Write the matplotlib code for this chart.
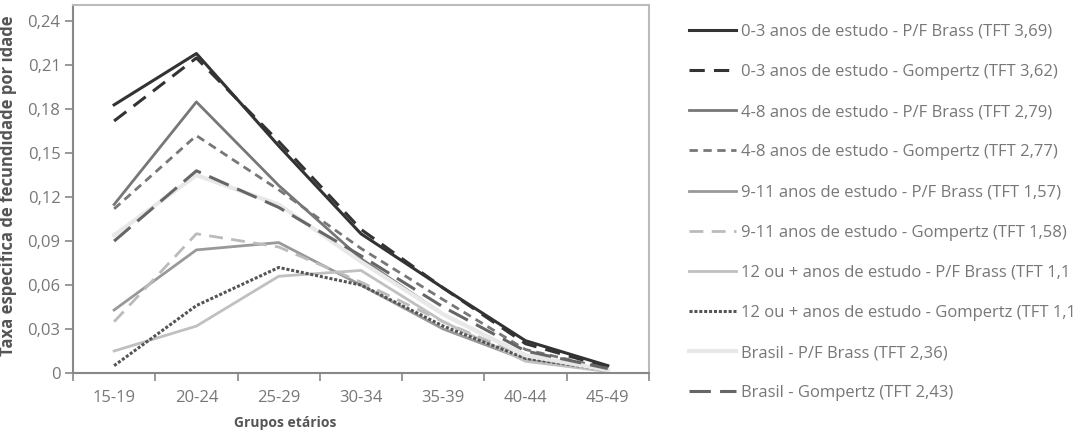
import matplotlib
matplotlib.use("Agg")
import matplotlib.pyplot as plt
from matplotlib.ticker import FuncFormatter, FixedLocator

plt.rcParams['font.family'] = ['Open Sans', 'DejaVu Sans']

grupos = ['15-19', '20-24', '25-29', '30-34', '35-39', '40-44', '45-49']

# taxas específicas de fecundidade por idade
pf_0_3 = [0.183, 0.218, 0.155, 0.095, 0.058, 0.022, 0.005]
gz_0_3 = [0.172, 0.215, 0.158, 0.098, 0.058, 0.020, 0.004]
pf_4_8 = [0.115, 0.185, 0.128, 0.078, 0.040, 0.012, 0.002]
gz_4_8 = [0.112, 0.162, 0.125, 0.085, 0.050, 0.016, 0.003]
pf_9_11 = [0.043, 0.084, 0.089, 0.060, 0.030, 0.009, 0.002]
gz_9_11 = [0.035, 0.095, 0.086, 0.062, 0.035, 0.011, 0.002]
pf_12 = [0.015, 0.032, 0.066, 0.070, 0.035, 0.008, 0.001]
gz_12 = [0.005, 0.046, 0.072, 0.060, 0.032, 0.010, 0.002]
pf_br = [0.094, 0.135, 0.115, 0.076, 0.040, 0.012, 0.002]
gz_br = [0.090, 0.138, 0.113, 0.080, 0.045, 0.015, 0.003]

series = [
    (pf_0_3, '0-3 anos de estudo - P/F Brass (TFT 3,69)', '#333333', '-', 2.2),
    (gz_0_3, '0-3 anos de estudo - Gompertz (TFT 3,62)', '#333333', (0, (5, 3)), 2.2),
    (pf_4_8, '4-8 anos de estudo - P/F Brass (TFT 2,79)', '#777777', '-', 2.0),
    (gz_4_8, '4-8 anos de estudo - Gompertz (TFT 2,77)', '#777777', (0, (3, 2)), 2.0),
    (pf_9_11, '9-11 anos de estudo - P/F Brass (TFT 1,57)', '#999999', '-', 2.0),
    (gz_9_11, '9-11 anos de estudo - Gompertz (TFT 1,58)', '#bbbbbb', (0, (5, 3)), 2.0),
    (pf_12, '12 ou + anos de estudo - P/F Brass (TFT 1,1', '#c0c0c0', '-', 2.0),
    (gz_12, '12 ou + anos de estudo - Gompertz (TFT 1,1', '#555555', (0, (1, 0.6)), 2.2),
    (pf_br, 'Brasil - P/F Brass (TFT 2,36)', '#e8e8e8', '-', 3.0),
    (gz_br, 'Brasil - Gompertz (TFT 2,43)', '#666666', (0, (7, 3)), 2.2),
]

fig = plt.figure(figsize=(10.78, 4.33), dpi=100)
ax = fig.add_axes([0.0677, 0.1386, 0.5343, 0.8494])

x = list(range(len(grupos)))
handles = []
for vals, label, color, ls, lw in series:
    h, = ax.plot(x, vals, color=color, linestyle=ls, linewidth=lw, label=label)
    handles.append(h)

ax.set_xlim(-0.5, 6.5)
ax.set_ylim(0, 0.251)
ax.set_yticks([0, 0.03, 0.06, 0.09, 0.12, 0.15, 0.18, 0.21, 0.24])
ax.yaxis.set_major_formatter(FuncFormatter(
    lambda v, p: '0' if v == 0 else f'{v:.2f}'.replace('.', ',')))

ax.xaxis.set_major_locator(FixedLocator([i - 0.5 for i in range(8)]))
ax.xaxis.set_minor_locator(FixedLocator(x))
ax.set_xticklabels([], minor=False)
ax.set_xticklabels(grupos, minor=True)
ax.tick_params(axis='x', which='major', length=6, width=1.2, color='#888888')
ax.tick_params(axis='x', which='minor', length=0, pad=12, labelsize=12, labelcolor='#777777')
ax.tick_params(axis='y', length=6, width=1.2, color='#888888', labelsize=12,
               labelcolor='#777777', pad=3)

for side in ['left', 'bottom']:
    ax.spines[side].set_color('#888888')
    ax.spines[side].set_linewidth(1.5)
for side in ['top', 'right']:
    ax.spines[side].set_color('#bbbbbb')
    ax.spines[side].set_linewidth(1.5)

ax.set_xlabel('Grupos etários', fontsize=10, fontweight='bold', color='#555555')
ax.xaxis.set_label_coords(0.368, -0.117)
ax.set_ylabel('Taxa específica de fecundidade por idade', fontsize=12,
              fontweight='bold', color='#555555')
ax.yaxis.set_label_coords(-0.098, 0.51)

fig.legend(handles=handles, loc='upper left', bbox_to_anchor=(0.639, 0.945),
           frameon=False, fontsize=12, handlelength=2.8, handletextpad=0.3,
           labelspacing=1.45, borderpad=0, borderaxespad=0,
           labelcolor='#777777')

fig.savefig('out.png', dpi=100)
